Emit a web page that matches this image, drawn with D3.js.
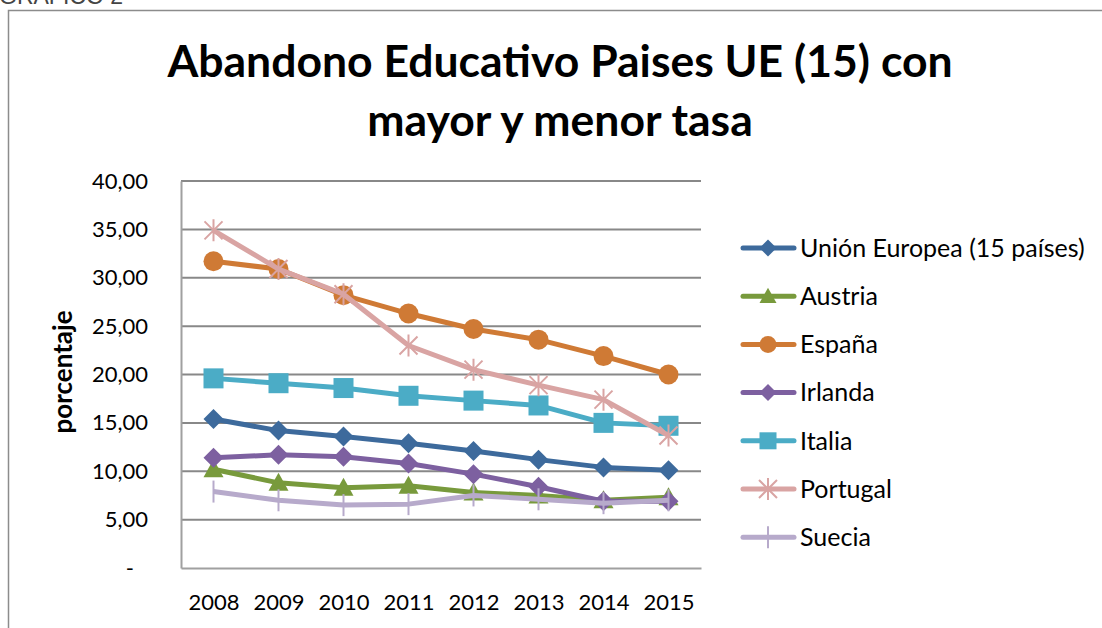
<!DOCTYPE html>
<html>
<head>
<meta charset="utf-8">
<script src="https://cdn.jsdelivr.net/npm/d3@7"></script>
<style>
  body { margin: 0; background: #fff; }
  svg { display: block; font-family: Lato, "Open Sans", sans-serif; }
</style>
</head>
<body>
<div id="chart"></div>
<script>
// data
var years = ["2008", "2009", "2010", "2011", "2012", "2013", "2014", "2015"];
var yTicks = [0, 5, 10, 15, 20, 25, 30, 35, 40];

var ue15     = [15.4, 14.2, 13.6, 12.9, 12.1, 11.2, 10.4, 10.1];
var austria  = [10.2, 8.8, 8.3, 8.5, 7.8, 7.5, 7.0, 7.3];
var espana   = [31.7, 30.9, 28.2, 26.3, 24.7, 23.6, 21.9, 20.0];
var irlanda  = [11.4, 11.7, 11.5, 10.8, 9.7, 8.4, 6.9, 6.9];
var italia   = [19.6, 19.1, 18.6, 17.8, 17.3, 16.8, 15.0, 14.7];
var portugal = [34.9, 30.9, 28.3, 23.0, 20.5, 18.9, 17.4, 13.7];
var suecia   = [7.9, 7.0, 6.5, 6.6, 7.5, 7.1, 6.7, 7.0];

var series = [
  {name: "Unión Europea (15 países)", values: ue15,     color: "#3d6a9c", marker: "diamond"},
  {name: "Austria",                   values: austria,  color: "#789a3c", marker: "triangle"},
  {name: "España",                    values: espana,   color: "#cf7a35", marker: "circle"},
  {name: "Irlanda",                   values: irlanda,  color: "#7d60a0", marker: "diamond"},
  {name: "Italia",                    values: italia,   color: "#4bacc6", marker: "square"},
  {name: "Portugal",                  values: portugal, color: "#d9a4a3", marker: "star"},
  {name: "Suecia",                    values: suecia,   color: "#b7aacb", marker: "bar"}
];

var W = 1102, H = 628;
var plot = {left: 181, right: 701, top: 181, bottom: 568};

var svg = d3.select("#chart").append("svg")
  .attr("width", W)
  .attr("height", H);

// chart frame + caption above it (caption is cut by the top edge, like the original)
svg.append("text")
  .attr("x", -1)
  .attr("y", 4)
  .attr("font-family", "Liberation Sans, Arial, sans-serif")
  .attr("font-size", 23)
  .attr("fill", "#444")
  .text("GRAFICO 2");

svg.append("rect")
  .attr("x", 8.5)
  .attr("y", 10.5)
  .attr("width", W + 10)
  .attr("height", H)
  .attr("fill", "none")
  .attr("stroke", "#8c8c8c")
  .attr("stroke-width", 1.5);

// title
var title = svg.append("text")
  .attr("text-anchor", "middle")
  .attr("font-weight", "bold")
  .attr("font-size", 44.5)
  .attr("fill", "#000");
title.append("tspan").attr("x", 560).attr("y", 77).text("Abandono Educativo Paises UE (15) con");
title.append("tspan").attr("x", 560).attr("y", 136).text("mayor y menor tasa");

// scales
var x = d3.scalePoint()
  .domain(years)
  .range([plot.left, plot.right])
  .padding(0.5);

var y = d3.scaleLinear()
  .domain([0, 40])
  .range([plot.bottom, plot.top]);

// gridlines
svg.append("g")
  .selectAll("line")
  .data(yTicks.filter(function(d){ return d > 0; }))
  .enter().append("line")
  .attr("x1", plot.left)
  .attr("x2", plot.right)
  .attr("y1", function(d){ return y(d); })
  .attr("y2", function(d){ return y(d); })
  .attr("stroke", "#888")
  .attr("stroke-width", 2);

// axes
var yAxis = svg.append("g")
  .attr("transform", "translate(" + plot.left + ",0)")
  .call(d3.axisLeft(y).tickValues(yTicks).tickSize(0).tickPadding(33)
    .tickFormat(function(d){ return d === 0 ? "-" : d3.format(".2f")(d).replace(".", ","); }));
yAxis.select(".domain").attr("stroke", "#a0a0a0").attr("stroke-width", 2);
yAxis.selectAll("text").attr("font-size", 22).attr("fill", "#000").attr("font-family", "Lato, sans-serif");
yAxis.selectAll(".tick text").filter(function(d){ return d === 0; }).attr("dx", -14);

var xAxis = svg.append("g")
  .attr("transform", "translate(0," + plot.bottom + ")")
  .call(d3.axisBottom(x).tickSize(0).tickPadding(26));
xAxis.select(".domain").attr("stroke", "#a0a0a0").attr("stroke-width", 2);
xAxis.selectAll("text").attr("font-size", 22).attr("fill", "#000").attr("font-family", "Lato, sans-serif");

svg.append("text")
  .attr("transform", "translate(72,372) rotate(-90)")
  .attr("text-anchor", "middle")
  .attr("font-weight", "bold")
  .attr("font-size", 26)
  .text("porcentaje");

// markers
function drawMarker(g, type, color) {
  if (type === "diamond") {
    g.append("path").attr("d", "M0,-10L10,0L0,10L-10,0Z").attr("fill", color);
  } else if (type === "square") {
    g.append("rect").attr("x", -10).attr("y", -10).attr("width", 20).attr("height", 20).attr("fill", color);
  } else if (type === "circle") {
    g.append("circle").attr("r", 10).attr("fill", color);
  } else if (type === "triangle") {
    g.append("path").attr("d", "M0,-10L10,8L-10,8Z").attr("fill", color);
  } else if (type === "star") {
    g.append("path").attr("d", "M-9,-9L9,9M-9,9L9,-9M0,-11L0,11")
      .attr("stroke", color).attr("stroke-width", 2).attr("fill", "none");
  } else if (type === "bar") {
    g.append("path").attr("d", "M0,-11L0,11")
      .attr("stroke", color).attr("stroke-width", 2).attr("fill", "none");
  }
}

var line = d3.line()
  .x(function(d, i){ return x(years[i]); })
  .y(function(d){ return y(d); });

series.forEach(function(s) {
  var g = svg.append("g");
  g.append("path")
    .attr("d", line(s.values))
    .attr("fill", "none")
    .attr("stroke", s.color)
    .attr("stroke-width", 5)
    .attr("stroke-linejoin", "round");
  s.values.forEach(function(v, i) {
    var m = g.append("g").attr("transform", "translate(" + x(years[i]) + "," + y(v) + ")");
    drawMarker(m, s.marker, s.color);
  });
});

// legend
var legend = svg.append("g");
series.forEach(function(s, i) {
  var ly = 248 + i * 48.2;
  legend.append("line")
    .attr("x1", 743).attr("x2", 794)
    .attr("y1", ly).attr("y2", ly)
    .attr("stroke", s.color)
    .attr("stroke-width", 5)
    .attr("stroke-linecap", "round");
  var m = legend.append("g").attr("transform", "translate(768," + ly + ")");
  drawMarker(m, s.marker, s.color);
  if (s.marker !== "bar" && s.marker !== "star") m.attr("transform", "translate(768," + ly + ") scale(0.85)");
  legend.append("text")
    .attr("x", 800)
    .attr("y", ly)
    .attr("dy", "0.35em")
    .attr("font-size", 25)
    .text(s.name);
});
</script>
</body>
</html>
